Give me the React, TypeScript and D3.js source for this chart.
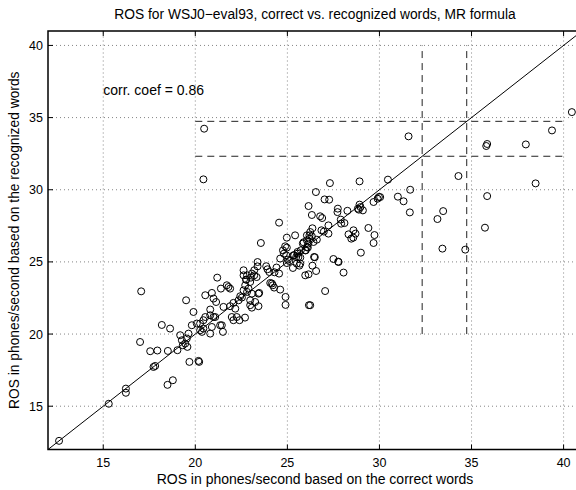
import React from "react"
import * as d3 from "d3"

// ROS per utterance: x = based on correct words, y = based on recognized words
const rosCorrect = [
	12.6, 15.3, 16.23, 16.23, 17.82, 17.73, 18.78, 18.49, 19.68, 20.17, 20.21, 17.0, 17.55, 17.94, 18.51,
	19.03, 19.27, 19.54, 19.45, 19.57, 19.32, 19.18, 19.63, 19.81, 20.08, 20.26, 20.44, 20.81, 20.9, 20.54,
	20.81, 21.08, 21.44, 21.5, 18.18, 18.63, 17.06, 19.5, 19.9, 20.54, 20.9, 20.99, 21.13, 20.81, 20.99,
	20.44, 21.35, 20.26, 20.36, 21.19, 21.39, 21.8, 21.71, 21.89, 21.53, 21.89, 22.07, 22.35, 22.53, 22.17,
	21.98, 22.25, 22.7, 22.07, 22.4, 22.62, 22.62, 22.81, 23.38, 23.2, 23.07, 23.2, 23.02, 23.33, 22.76,
	22.98, 22.71, 22.89, 22.62, 22.81, 23.07, 23.43, 22.44, 22.98, 23.25, 23.43, 23.07, 22.98, 23.47, 23.38,
	23.56, 24.55, 23.85, 23.92, 24.41, 24.02, 24.3, 24.55, 24.07, 24.21, 24.61, 24.9, 24.9, 24.28, 24.16,
	24.97, 25.03, 25.11, 25.51, 25.3, 25.65, 24.81, 25.55, 25.33, 25.48, 24.61, 24.94, 24.97, 24.88, 24.76,
	24.97, 25.42, 25.88, 25.73, 25.55, 25.37, 25.6, 25.97, 26.11, 26.49, 26.36, 25.97, 26.15, 25.7, 26.56,
	26.17, 27.05, 27.5, 27.76, 28.05, 28.99, 26.2, 26.2, 26.33, 26.06, 26.13, 26.42, 26.24, 26.36, 26.98,
	26.85, 27.23, 27.23, 27.92, 28.1, 28.32, 28.59, 28.7, 28.47, 28.58, 29.4, 29.73, 29.68, 26.15, 26.33,
	26.78, 26.89, 27.9, 27.74, 27.72, 28.26, 28.92, 28.97, 28.83, 29.1, 28.88, 29.97, 29.9, 29.68, 26.55,
	27.02, 27.27, 27.31, 28.92, 30.46, 31.0, 31.31, 31.67, 31.65, 30.04, 33.46, 33.15, 33.42, 34.66, 34.29,
	31.58, 35.85, 35.8, 37.95, 39.37, 40.45, 38.48, 35.85, 35.73, 20.48, 20.44, 26.06, 26.0, 25.84, 26.06,
	26.45, 25.7, 27.78, 26.24, 26.6, 22.76,
]
const rosRecognized = [
	12.6, 15.17, 16.22, 15.93, 17.79, 17.72, 16.8, 16.48, 18.07, 18.14, 18.07, 19.45, 18.81, 18.86, 18.83,
	18.88, 19.57, 19.69, 19.34, 19.11, 19.22, 19.92, 20.03, 20.61, 20.73, 20.26, 20.38, 20.03, 20.49, 21.18,
	21.3, 21.18, 20.61, 20.15, 20.63, 20.38, 22.96, 22.34, 21.53, 22.69, 22.85, 22.46, 22.22, 21.7, 21.18,
	20.96, 20.61, 20.73, 20.15, 23.91, 23.15, 23.26, 23.38, 23.15, 21.88, 21.93, 22.16, 22.34, 22.53, 21.76,
	21.18, 21.18, 21.14, 20.96, 20.96, 24.42, 24.07, 24.07, 24.69, 24.42, 24.19, 24.07, 23.91, 23.95, 23.77,
	23.61, 23.38, 23.15, 23.03, 22.92, 22.8, 22.8, 22.62, 22.34, 22.22, 21.93, 21.83, 22.0, 22.85, 24.99,
	26.31, 27.72, 24.7, 24.49, 24.61, 24.3, 24.28, 24.19, 23.54, 23.38, 23.08, 22.57, 22.02, 23.22, 23.5,
	24.92, 25.16, 25.06, 24.88, 24.58, 24.74, 25.57, 25.57, 25.46, 25.34, 25.23, 25.46, 26.68, 26.08, 25.8,
	25.99, 26.84, 26.36, 25.8, 25.69, 25.46, 25.34, 25.8, 25.99, 25.32, 24.74, 24.07, 24.14, 24.88, 24.37,
	22.0, 22.98, 25.2, 25.02, 24.26, 25.64, 26.84, 26.61, 26.77, 26.5, 26.27, 26.38, 27.07, 27.33, 27.1,
	27.19, 26.96, 27.53, 27.65, 27.69, 26.91, 27.19, 26.96, 26.61, 26.68, 27.35, 26.86, 26.31, 28.87, 28.25,
	28.16, 28.04, 27.93, 28.69, 28.45, 28.54, 28.97, 28.8, 28.69, 28.57, 28.62, 29.5, 29.38, 29.15, 29.84,
	29.33, 29.31, 30.46, 30.58, 30.7, 29.52, 29.2, 30.0, 28.43, 29.49, 28.52, 27.97, 25.92, 25.85, 30.95,
	33.7, 33.17, 33.03, 33.14, 34.11, 35.38, 30.44, 29.56, 27.37, 34.23, 30.72, 26.84, 25.8, 26.27, 26.03,
	25.34, 25.3, 24.99, 22.0, 26.54, 23.77,
]
const xTicks = [15, 20, 25, 30, 35, 40]
const yTicks = [15, 20, 25, 30, 35, 40]
// dashed guide lines
const guideLevels = [32.32, 34.74]
const guideSpan = [20, 40]

const W = 576
const H = 490
const margin = { top: 31, left: 48 }
const plotW = 534
const plotH = 418.5
const font = "'Liberation Sans', Arial, Helvetica, sans-serif"

export default function App() {
	const x = d3.scaleLinear().domain([12, 41]).range([margin.left, margin.left + plotW])
	const y = d3.scaleLinear().domain([12, 41]).range([margin.top + plotH, margin.top])
	const x0 = x(12), x1 = x(41), y0 = y(12), y1 = y(41)
	const diag = d3.line<number>().x((d) => x(d)).y((d) => y(d))([12, 41]) || ""

	return (
		<svg width={W} height={H} style={{ position: "absolute", left: 0, top: 0, background: "#fff" }} fontFamily={font}>
			<defs>
				<clipPath id="plot">
					<rect x={x0} y={y1} width={x1 - x0} height={y0 - y1} />
				</clipPath>
			</defs>
			<rect x={0} y={0} width={W} height={H} fill="#fff" />
			{/* grid */}
			{xTicks.map((t) => (
				<line key={"gx" + t} x1={x(t)} x2={x(t)} y1={y0} y2={y1} stroke="#666" strokeWidth={0.8} strokeDasharray="1,3" />
			))}
			{yTicks.map((t) => (
				<line key={"gy" + t} x1={x0} x2={x1} y1={y(t)} y2={y(t)} stroke="#666" strokeWidth={0.8} strokeDasharray="1,3" />
			))}
			<g clipPath="url(#plot)">
				{guideLevels.map((v) => (
					<g key={"g" + v}>
						<line x1={x(guideSpan[0])} x2={x(guideSpan[1])} y1={y(v)} y2={y(v)} stroke="#222" strokeDasharray="7,5" />
						<line x1={x(v)} x2={x(v)} y1={y(guideSpan[0])} y2={y(guideSpan[1])} stroke="#222" strokeDasharray="7,5" />
					</g>
				))}
				<path d={diag} stroke="#000" fill="none" strokeWidth={1} />
				{rosCorrect.map((v, i) => (
					<circle key={i} cx={x(v)} cy={y(rosRecognized[i])} r={3.5} fill="none" stroke="#000" strokeWidth={1} />
				))}
			</g>
			{/* box + ticks */}
			<rect x={x0} y={y1} width={x1 - x0} height={y0 - y1} fill="none" stroke="#000" strokeWidth={1.5} />
			{xTicks.map((t) => (
				<g key={"tx" + t}>
					<line x1={x(t)} x2={x(t)} y1={y0} y2={y0 - 5} stroke="#000" />
					<line x1={x(t)} x2={x(t)} y1={y1} y2={y1 + 5} stroke="#000" />
					<text x={x(t)} y={y0 + 17} textAnchor="middle" fontSize={12.5}>{t}</text>
				</g>
			))}
			{yTicks.map((t) => (
				<g key={"ty" + t}>
					<line x1={x0} x2={x0 + 5} y1={y(t)} y2={y(t)} stroke="#000" />
					<text x={x0 - 5} y={y(t) + 4.5} textAnchor="end" fontSize={12.5}>{t}</text>
				</g>
			))}
			<text x={x(15)} y={y(36.9) + 5} fontSize={14}>corr. coef = 0.86</text>
			<text x={(x0 + x1) / 2} y={19} textAnchor="middle" fontSize={13.8}>
				ROS for WSJ0−eval93, correct vs. recognized words, MR formula
			</text>
			<text x={(x0 + x1) / 2} y={484} textAnchor="middle" fontSize={14}>
				ROS in phones/second based on the correct words
			</text>
			<text transform={`translate(19,${(y0 + y1) / 2}) rotate(-90)`} textAnchor="middle" fontSize={13.8}>
				ROS in phones/second based on the recognized words
			</text>
		</svg>
	)
}
